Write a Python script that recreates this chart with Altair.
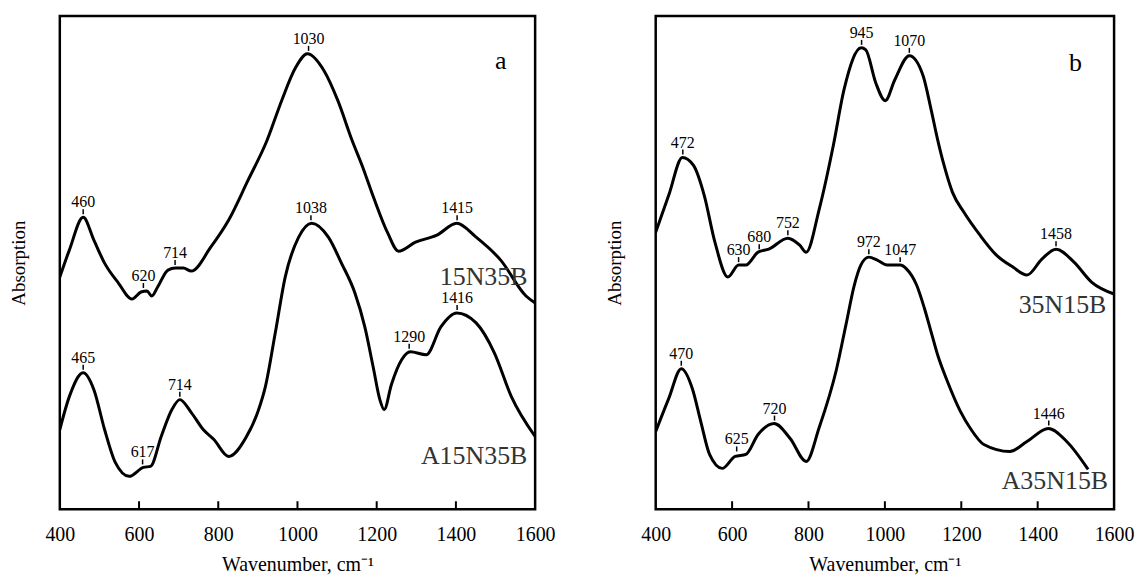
import altair as alt
import pandas as pd

# ---------------- Panel a ----------------
a_top_wn = [400, 424, 459, 486, 513, 548, 582, 605, 620, 632, 647, 673, 692, 712, 732, 781,
            826, 875, 923, 960, 995, 1025, 1067, 1102, 1138, 1165, 1192, 1228, 1255, 1298,
            1352, 1402, 1451, 1513, 1577, 1600]
a_top_val = [233, 260, 293, 270, 247, 227, 211, 218, 219, 214, 223, 240, 242, 242, 239, 263,
             290, 330, 370, 410, 443, 457, 440, 410, 370, 343, 313, 277, 259, 268,
             275, 287, 273, 250, 214, 207]

a_bot_wn = [400, 424, 459, 486, 513, 540, 575, 611, 629, 656, 683, 703, 732, 762, 789, 826,
            870, 902, 919, 944, 969, 1003, 1036, 1078, 1111, 1145, 1170, 1191, 1208, 1219,
            1237, 1263, 1285, 1325, 1362, 1402, 1451, 1497, 1540, 1600]
a_bot_val = [80, 113, 137, 120, 80, 47, 33, 42, 43, 73, 100, 110, 97, 80, 70, 53,
             72, 100, 123, 177, 233, 273, 287, 273, 247, 217, 183, 143, 110, 100,
             125, 150, 158, 155, 183, 197, 187, 157, 113, 73]

a_peak_text = ["460", "620", "714", "1030", "1415", "465", "617", "714", "1038", "1290", "1416"]
a_peak_wn = [459, 611, 691, 1028, 1403, 459, 609, 703, 1034, 1282, 1403]
a_peak_val = [293, 219, 242, 457, 287, 137, 42, 110, 287, 158, 197]

a_names = ["15N35B", "A15N35B"]
a_name_wn = [1470, 1446]
a_name_val = [233, 53]

# ---------------- Panel b ----------------
b_top_wn = [400, 434, 470, 499, 527, 555, 589, 617, 636, 668, 696, 746, 777, 794, 828, 865,
            893, 938, 950, 976, 1001, 1026, 1064, 1100, 1121, 1138, 1155, 1177, 1207, 1249,
            1292, 1335, 1372, 1411, 1448, 1495, 1541, 1600]
b_top_val = [278, 315, 353, 345, 315, 268, 233, 245, 245, 258, 261, 272, 265, 258, 301, 365,
             421, 463, 461, 428, 410, 431, 455, 435, 401, 371, 345, 318, 298, 275,
             255, 243, 235, 251, 261, 248, 228, 216]

b_bot_wn = [400, 434, 467, 496, 518, 541, 574, 608, 636, 668, 710, 752, 794, 828, 873, 898,
            920, 937, 958, 980, 1006, 1040, 1057, 1083, 1104, 1121, 1138, 1164, 1198, 1224,
            1259, 1327, 1372, 1428, 1476, 1532]
b_bot_val = [78, 111, 141, 121, 88, 55, 41, 53, 55, 75, 86, 71, 48, 82, 140, 185,
             225, 245, 253, 250, 245, 245, 241, 225, 201, 178, 155, 128, 98, 81,
             65, 58, 68, 81, 68, 40]

b_peak_text = ["472", "630", "680", "752", "945", "1070", "1458", "470", "625", "720", "972", "1047", "1446"]
b_peak_wn = [471, 617, 671, 746, 939, 1064, 1448, 467, 612, 711, 958, 1040, 1429]
b_peak_val = [353, 245, 258, 272, 463, 455, 261, 141, 55, 86, 253, 245, 81]

b_names = ["35N15B", "A35N15B"]
b_name_wn = [1465, 1445]
b_name_val = [205, 28]

x_ticks = [400, 600, 800, 1000, 1200, 1400, 1600]
inner_ticks = [600, 800, 1000, 1200, 1400]

FONT = "Liberation Serif"
H = 495


def panel(top_wn, top_val, top_name, bot_wn, bot_val, bot_name,
          pk_text, pk_wn, pk_val, names, name_wn, name_val, letter, letter_wn, letter_val, width):
    curves = pd.concat([
        pd.DataFrame({"wn": top_wn, "v": top_val, "s": top_name}),
        pd.DataFrame({"wn": bot_wn, "v": bot_val, "s": bot_name}),
    ])
    peaks = pd.DataFrame({"t": pk_text, "wn": pk_wn, "v": pk_val})
    nm = pd.DataFrame({"t": names, "wn": name_wn, "v": name_val})
    lt = pd.DataFrame({"t": [letter], "wn": [letter_wn], "v": [letter_val]})
    ticks = pd.DataFrame({"wn": inner_ticks})

    xs = alt.Scale(domain=[400, 1600], nice=False, zero=False)
    ys = alt.Scale(domain=[0, H], nice=False, zero=False)
    xax = alt.Axis(values=x_ticks, format="d", ticks=False, domain=False, grid=False,
                   labelFont=FONT, labelFontSize=20, labelColor="black", labelPadding=15,
                   labelFlush=False,
                   title="Wavenumber, cm\u207b\u00b9", titleFont=FONT, titleFontSize=20,
                   titleFontWeight="normal", titleColor="black", titlePadding=10)
    yax = alt.Axis(labels=False, ticks=False, domain=False, grid=False,
                   title="Absorption", titleFont=FONT, titleFontSize=19,
                   titleFontWeight="normal", titleColor="black", titlePadding=31)

    X = alt.X("wn:Q", scale=xs, axis=xax)
    Y = alt.Y("v:Q", scale=ys, axis=yax)

    lines = alt.Chart(curves).mark_line(color="black", strokeWidth=3, interpolate="monotone", clip=True).encode(
        x=X, y=Y, detail="s:N")
    pk_rule = alt.Chart(peaks).mark_rule(color="black", strokeWidth=1.5, yOffset=-3, y2Offset=-8).encode(
        x=X, y=Y, y2=alt.Y2("v:Q"))
    pk_text_l = alt.Chart(peaks).mark_text(font=FONT, fontSize=16, dy=-10, baseline="alphabetic",
                                           color="black").encode(x=X, y=Y, text="t:N")
    nm_text = alt.Chart(nm).mark_text(font=FONT, fontSize=26, baseline="middle", align="center",
                                      color="#333").encode(x=X, y=Y, text="t:N")
    lt_text = alt.Chart(lt).mark_text(font=FONT, fontSize=26, baseline="middle", align="center",
                                      color="black").encode(x=X, y=Y, text="t:N")
    tk = alt.Chart(ticks).mark_rule(color="black", strokeWidth=2).encode(
        x=X, y=alt.value(H), y2=alt.value(H - 8))

    return alt.layer(lines, tk, pk_rule, pk_text_l, nm_text, lt_text).properties(width=width, height=H)


pa = panel(a_top_wn, a_top_val, "15N35B", a_bot_wn, a_bot_val, "A15N35B",
           a_peak_text, a_peak_wn, a_peak_val, a_names, a_name_wn, a_name_val, "a", 1513, 450, 477)
pb = panel(b_top_wn, b_top_val, "35N15B", b_bot_wn, b_bot_val, "A35N15B",
           b_peak_text, b_peak_wn, b_peak_val, b_names, b_name_wn, b_name_val, "b", 1499, 448, 460)

chart = alt.hconcat(pa, pb, spacing=47).properties(
    padding={"left": 0, "top": 5, "right": 0, "bottom": 0},
    background="white"
).configure_view(stroke="black", strokeWidth=2.5)

chart.save("out.html", embed_options={"renderer": "svg", "actions": False})
